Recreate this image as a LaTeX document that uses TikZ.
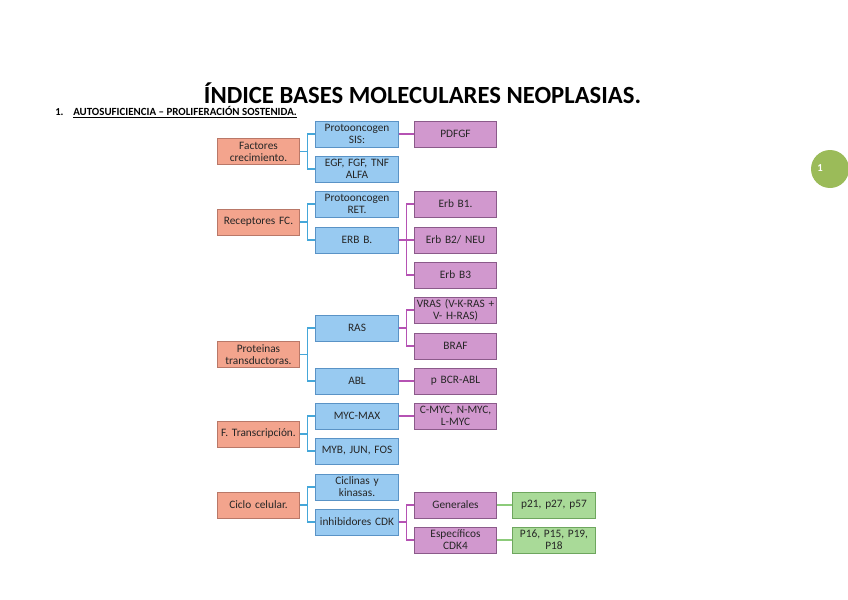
\documentclass[tikz,border=0pt]{standalone}
\usepackage{fontspec}
\setmainfont{Carlito}
\usepackage{tikz}
\usetikzlibrary{positioning}
\definecolor{naranja}{HTML}{F3A48D}
\definecolor{naranjaB}{HTML}{B97868}
\definecolor{azul}{HTML}{98CAF1}
\definecolor{azulB}{HTML}{5A93C6}
\definecolor{azulL}{HTML}{45A7D9}
\definecolor{morado}{HTML}{D198CE}
\definecolor{moradoB}{HTML}{8B5A8A}
\definecolor{moradoL}{HTML}{B552B3}
\definecolor{verde}{HTML}{A9DA98}
\definecolor{verdeB}{HTML}{6EA65E}
\definecolor{verdeL}{HTML}{8CCB7A}
\definecolor{circulo}{HTML}{9BBB59}
\tikzstyle{caja} = [rectangle, draw, line width=0.6pt, minimum width=62pt, minimum height=19.5pt, text width=62pt, align=center, inner sep=0pt, font=\fontsize{8.5}{9}\selectfont, text=black!85]
\tikzstyle{cnar} = [caja, fill=naranja, draw=naranjaB]
\tikzstyle{cazul} = [caja, fill=azul, draw=azulB]
\tikzstyle{cmor} = [caja, fill=morado, draw=moradoB]
\tikzstyle{cver} = [caja, fill=verde, draw=verdeB]
\tikzstyle{lazul} = [draw=azulL, line width=1pt]
\tikzstyle{lmor} = [draw=moradoL, line width=1pt]
\tikzstyle{lver} = [draw=verdeL, line width=1pt]

\begin{document}
\begin{tikzpicture}[x=0.75pt, y=-0.75pt]
	\useasboundingbox (0,0) rectangle (848,599);

	% titulo
	\node (tit) at (422.5,93) {\fontsize{18.5}{20}\selectfont\bfseries ÍNDICE BASES MOLECULARES NEOPLASIAS.};
	\node[anchor=west, inner sep=0pt] (num) at (55,112) {\fontsize{8}{9}\selectfont\bfseries 1.};
	\node[anchor=west, inner sep=0pt] (sub) at (73,112) {\fontsize{8.2}{9}\selectfont\bfseries\underline{AUTOSUFICIENCIA – PROLIFERACIÓN SOSTENIDA.}};

	% numero de pagina
	\fill[circulo] (830,169) circle (19);
	\node[text=white, inner sep=0pt] (pag) at (820,168) {\fontsize{8}{9}\selectfont\bfseries 1};

	% columna naranja
	\node[cnar] (fc) at (258.5,151.5) {Factores\\crecimiento.};
	\node[cnar] (rfc) at (258.5,222) {Receptores FC.};
	\node[cnar] (pt) at (258.5,354.5) {Proteinas\\transductoras.};
	\node[cnar] (ftr) at (258.5,434) {F. Transcripción.};
	\node[cnar] (cc) at (258.5,505) {Ciclo celular.};

	% columna azul
	\node[cazul] (sis) at (357,134) {Protooncogen\\SIS:};
	\node[cazul] (egf) at (357,169) {EGF, FGF, TNF\\ALFA};
	\node[cazul] (ret) at (357,204) {Protooncogen\\RET.};
	\node[cazul] (erb) at (357,240) {ERB B.};
	\node[cazul] (ras) at (357,328) {RAS};
	\node[cazul] (abl) at (357,381) {ABL};
	\node[cazul] (myc) at (357,416) {MYC-MAX};
	\node[cazul] (myb) at (357,451) {MYB, JUN, FOS};
	\node[cazul] (cic) at (357,487) {Ciclinas y\\kinasas.};
	\node[cazul] (inh) at (357,522) {inhibidores CDK};

	% columna morada
	\node[cmor] (pdgf) at (455.5,134) {PDFGF};
	\node[cmor] (b1) at (455.5,204) {Erb B1.};
	\node[cmor] (b2) at (455.5,240) {Erb B2/ NEU};
	\node[cmor] (b3) at (455.5,275) {Erb B3};
	\node[cmor] (vras) at (455.5,310) {VRAS (V-K-RAS +\\V- H-RAS)};
	\node[cmor] (braf) at (455.5,346) {BRAF};
	\node[cmor] (bcr) at (455.5,381) {p BCR-ABL};
	\node[cmor] (cmyc) at (455.5,416) {C-MYC, N-MYC,\\L-MYC};
	\node[cmor] (gen) at (455.5,505) {Generales};
	\node[cmor] (esp) at (455.5,540) {Específicos\\CDK4};

	% columna verde
	\node[cver] (p21) at (554,505) {p21, p27, p57};
	\node[cver] (p16) at (554,540) {P16, P15, P19,\\P18};

	% conectores naranja - azul
	\draw[lazul] (fc.east) -- ++(7,0) |- (sis.west);
	\draw[lazul] (fc.east) -- ++(7,0) |- (egf.west);
	\draw[lazul] (rfc.east) -- ++(7,0) |- (ret.west);
	\draw[lazul] (rfc.east) -- ++(7,0) |- (erb.west);
	\draw[lazul] (pt.east) -- ++(7,0) |- (ras.west);
	\draw[lazul] (pt.east) -- ++(7,0) |- (abl.west);
	\draw[lazul] (ftr.east) -- ++(7,0) |- (myc.west);
	\draw[lazul] (ftr.east) -- ++(7,0) |- (myb.west);
	\draw[lazul] (cc.east) -- ++(7,0) |- (cic.west);
	\draw[lazul] (cc.east) -- ++(7,0) |- (inh.west);

	% conectores azul - morado
	\draw[lmor] (sis.east) -- (pdgf.west);
	\draw[lmor] (erb.east) -- ++(8,0) |- (b1.west);
	\draw[lmor] (erb.east) -- (b2.west);
	\draw[lmor] (erb.east) -- ++(8,0) |- (b3.west);
	\draw[lmor] (ras.east) -- ++(8,0) |- (vras.west);
	\draw[lmor] (ras.east) -- ++(8,0) |- (braf.west);
	\draw[lmor] (abl.east) -- (bcr.west);
	\draw[lmor] (myc.east) -- (cmyc.west);
	\draw[lmor] (inh.east) -- ++(8,0) |- (gen.west);
	\draw[lmor] (inh.east) -- ++(8,0) |- (esp.west);

	% conectores morado - verde
	\draw[lver] (gen.east) -- (p21.west);
	\draw[lver] (esp.east) -- (p16.west);

\end{tikzpicture}
\end{document}
